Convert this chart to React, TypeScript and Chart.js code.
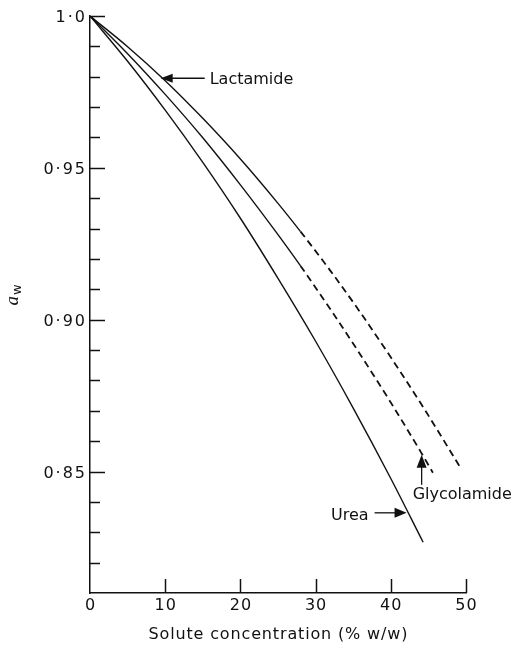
import { useEffect, useRef } from "react";
import { Chart, registerables } from "chart.js";

Chart.register(...registerables);

// Water activity (a_w) of aqueous solutions against solute concentration (% w/w)
const concentrationLactamide = [0, 5, 10, 15, 20, 25, 28, 32, 36, 40, 44, 49.4];
const lactamide = [1.0, 0.9899, 0.9787, 0.9663, 0.9529, 0.9383, 0.929, 0.916, 0.9022, 0.8876, 0.8724, 0.8507];

const concentrationGlycolamide = [0, 5, 10, 15, 20, 25, 28, 32, 36, 40, 44, 45.6];
const glycolamide = [1.0, 0.9876, 0.9742, 0.9599, 0.9444, 0.928, 0.9177, 0.9033, 0.8883, 0.8727, 0.8564, 0.8496];

const concentrationUrea = [0, 5, 10, 15, 20, 25, 30, 35, 40, 44.3];
const urea = [1.0, 0.9851, 0.969, 0.9518, 0.9334, 0.9136, 0.8929, 0.8709, 0.8477, 0.8267];

// measured range of the amides ends here; beyond it their curves are extrapolated (dashed)
const amideMeasuredLimit = 28;

const xTickValues = [0, 10, 20, 30, 40, 50];
const xTickLabels = ["0", "10", "20", "30", "40", "50"];
const yTickValues = [1.0, 0.95, 0.9, 0.85];
const yTickLabels = ["1·0", "0·95", "0·90", "0·85"];
const xAxisTitle = "Solute concentration (% w/w)";

type Note = {
  label: string;
  at: [number, number];
  pointing: "left" | "up" | "right";
  shaft: number;
  textOffset: [number, number];
  align: CanvasTextAlign;
};

const notes: Note[] = [
  { label: "Lactamide", at: [9.4, 0.9795], pointing: "left", shaft: 44, textOffset: [49, 6], align: "left" },
  { label: "Glycolamide", at: [44.1, 0.8555], pointing: "up", shaft: 30, textOffset: [-9, 43.7], align: "left" },
  { label: "Urea", at: [42.1, 0.8364], pointing: "right", shaft: 32, textOffset: [-38, 7.5], align: "right" },
];

const INK = "#111";
const SANS = '"DejaVu Sans", sans-serif';

function toPoints(xs: number[], ys: number[]) {
  return xs.map((x, i) => ({ x, y: ys[i] }));
}

function text(
  ctx: CanvasRenderingContext2D,
  s: string,
  x: number,
  y: number,
  font: string,
  align: CanvasTextAlign,
  spacing = 0
) {
  ctx.save();
  ctx.font = font;
  (ctx as any).letterSpacing = `${spacing}px`;
  ctx.textAlign = align;
  ctx.textBaseline = "alphabetic";
  ctx.fillStyle = INK;
  let dx = 0;
  if (align === "center") dx = spacing / 2;
  else if (align === "right") dx = spacing;
  ctx.fillText(s, x + dx, y);
  ctx.restore();
}

const axisDecor = {
  id: "axisDecor",
  afterDraw(chart: any) {
    const ctx: CanvasRenderingContext2D = chart.ctx;
    const xs = chart.scales.x;
    const ys = chart.scales.y;
    const left = chart.chartArea.left;
    const bottom = chart.chartArea.bottom;

    ctx.save();
    ctx.strokeStyle = INK;
    ctx.lineWidth = 1.5;

    // inward tick marks on the y axis (long at every 0.05)
    for (const t of ys.ticks) {
      const v = t.value;
      if (Math.abs(v - ys.min) < 1e-9) continue;
      const major = Math.abs(v * 20 - Math.round(v * 20)) < 1e-6;
      const py = Math.round(ys.getPixelForValue(v)) + 0.5;
      ctx.beginPath();
      ctx.moveTo(left, py);
      ctx.lineTo(left + (major ? 15 : 10), py);
      ctx.stroke();
    }
    // inward tick marks on the x axis
    for (const t of xs.ticks) {
      const v = t.value;
      if (Math.abs(v - xs.min) < 1e-9) continue;
      const px = Math.round(xs.getPixelForValue(v)) + 0.5;
      ctx.beginPath();
      ctx.moveTo(px, bottom);
      ctx.lineTo(px, bottom - 14);
      ctx.stroke();
    }
    ctx.restore();

    const tickFont = `16px ${SANS}`;
    yTickValues.forEach((v, i) => {
      text(ctx, yTickLabels[i], left - 5, ys.getPixelForValue(v) + 6, tickFont, "right", 2);
    });
    xTickValues.forEach((v, i) => {
      text(ctx, xTickLabels[i], xs.getPixelForValue(v), bottom + 17, tickFont, "center", 1);
    });

    // x axis title
    const midX = (xs.getPixelForValue(xs.min) + xs.getPixelForValue(xs.max)) / 2;
    text(ctx, xAxisTitle, midX, bottom + 46, `16px ${SANS}`, "center", 0.85);

    // y axis title: italic a with subscript w, reading upwards
    const cy = (ys.getPixelForValue(ys.min) + ys.getPixelForValue(ys.max)) / 2;
    ctx.save();
    ctx.translate(18, cy + 1);
    ctx.rotate(-Math.PI / 2);
    ctx.fillStyle = INK;
    ctx.textBaseline = "alphabetic";
    ctx.textAlign = "left";
    ctx.font = `italic 19px "Liberation Serif", serif`;
    const aw = ctx.measureText("a").width;
    ctx.fillText("a", 0, 0);
    ctx.font = `13px ${SANS}`;
    ctx.fillText("w", aw + 1, 3);
    ctx.restore();

    // labelled arrows
    for (const n of notes) {
      const px = xs.getPixelForValue(n.at[0]);
      const py = ys.getPixelForValue(n.at[1]);
      ctx.save();
      ctx.fillStyle = INK;
      ctx.strokeStyle = INK;
      ctx.lineWidth = 1.3;
      ctx.beginPath();
      if (n.pointing === "left") {
        ctx.moveTo(px, py);
        ctx.lineTo(px + 12, py - 4.5);
        ctx.lineTo(px + 12, py + 4.5);
        ctx.closePath();
        ctx.fill();
        ctx.beginPath();
        ctx.moveTo(px + 11, py);
        ctx.lineTo(px + n.shaft, py);
        ctx.stroke();
      } else if (n.pointing === "right") {
        ctx.moveTo(px, py);
        ctx.lineTo(px - 12, py - 5);
        ctx.lineTo(px - 12, py + 5);
        ctx.closePath();
        ctx.fill();
        ctx.beginPath();
        ctx.moveTo(px - 11, py);
        ctx.lineTo(px - n.shaft, py);
        ctx.stroke();
      } else {
        ctx.moveTo(px, py);
        ctx.lineTo(px - 5, py + 13);
        ctx.lineTo(px + 5, py + 13);
        ctx.closePath();
        ctx.fill();
        ctx.beginPath();
        ctx.moveTo(px, py + 12);
        ctx.lineTo(px, py + n.shaft);
        ctx.stroke();
      }
      ctx.restore();
      text(ctx, n.label, px + n.textOffset[0], py + n.textOffset[1], `16px ${SANS}`, n.align, 0);
    }
  },
};

function curve(label: string, xs: number[], ys: number[], dashedFrom: number) {
  const extrapolated = (c: any) => c.p0.parsed.x >= dashedFrom - 1e-9;
  return {
    label,
    data: toPoints(xs, ys),
    borderColor: INK,
    borderWidth: 1.4,
    pointRadius: 0,
    fill: false,
    cubicInterpolationMode: "monotone" as const,
    segment: {
      borderDash: (c: any) => (extrapolated(c) ? [7, 4.5] : undefined),
      borderWidth: (c: any) => (extrapolated(c) ? 1.8 : undefined),
    },
  };
}

export default function App() {
  const canvasRef = useRef<HTMLCanvasElement | null>(null);

  useEffect(() => {
    const canvas = canvasRef.current;
    if (!canvas) return;
    const chart = new Chart(canvas, {
      type: "line",
      data: {
        datasets: [
          curve("Lactamide", concentrationLactamide, lactamide, amideMeasuredLimit),
          curve("Glycolamide", concentrationGlycolamide, glycolamide, amideMeasuredLimit),
          curve("Urea", concentrationUrea, urea, Infinity),
        ],
      },
      options: {
        animation: false,
        responsive: false,
        devicePixelRatio: 1,
        layout: { padding: { left: 90, right: 46, top: 16, bottom: 53 } },
        plugins: {
          legend: { display: false },
          tooltip: { enabled: false },
        },
        scales: {
          x: {
            type: "linear",
            min: 0,
            max: 50,
            ticks: { display: false, stepSize: 10 },
            grid: { display: false, drawTicks: false },
            border: { display: true, color: INK, width: 1.5 },
          },
          y: {
            type: "linear",
            min: 0.81,
            max: 1.0,
            ticks: { display: false, stepSize: 0.01 },
            grid: { display: false, drawTicks: false },
            border: { display: true, color: INK, width: 1.5 },
          },
        },
      },
      plugins: [axisDecor],
    });
    return () => chart.destroy();
  }, []);

  return (
    <div style={{ position: "absolute", left: 0, top: 0, width: 512, height: 646, background: "#fff" }}>
      <canvas ref={canvasRef} width={512} height={646} style={{ display: "block" }} />
    </div>
  );
}
